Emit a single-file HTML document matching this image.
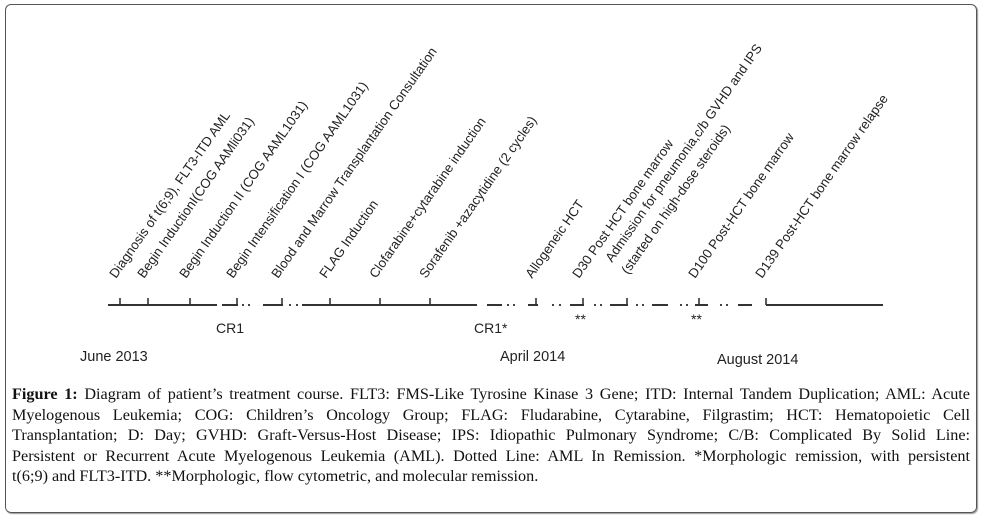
<!DOCTYPE html>
<html><head><meta charset="utf-8"><style>
html,body{margin:0;padding:0;background:#fff;}
#wrap{position:relative;width:982px;height:518px;overflow:hidden;}
#frame{position:absolute;left:5px;top:4px;width:970px;height:507px;border:1.5px solid #555;border-radius:6px;box-shadow:1px 1px 1px #999;}
#cap{position:absolute;left:12px;top:384px;width:958px;font-family:"Liberation Serif",serif;font-size:16.2px;line-height:20.6px;color:#111;}
#cap div{text-align:justify;text-align-last:justify;white-space:nowrap;}
#cap div.last{text-align-last:left;}
#cap b{font-weight:bold;}
svg text{font-family:"Liberation Sans",sans-serif;fill:#222;}
</style></head><body>
<div id="wrap">
<div id="frame"></div>
<svg id="chart" width="982" height="380" style="position:absolute;left:0;top:0"></svg>
<div id="cap">
<div style="white-space:normal"><b>Figure 1:</b> Diagram of patient’s treatment course. FLT3: FMS-Like Tyrosine Kinase 3 Gene; ITD: Internal Tandem Duplication; AML: Acute</div>
<div style="white-space:normal">Myelogenous Leukemia; COG: Children’s Oncology Group; FLAG: Fludarabine, Cytarabine, Filgrastim; HCT: Hematopoietic Cell</div>
<div style="white-space:normal">Transplantation; D: Day; GVHD: Graft-Versus-Host Disease; IPS: Idiopathic Pulmonary Syndrome; C/B: Complicated By Solid Line:</div>
<div style="white-space:normal">Persistent or Recurrent Acute Myelogenous Leukemia (AML). Dotted Line: AML In Remission. *Morphologic remission, with persistent</div>
<div class="last">t(6;9) and FLT3-ITD. **Morphologic, flow cytometric, and molecular remission.</div>
</div>
</div>
<script>
const eventX = [120,148,190,237,282,330,380,430,536,583,627,699,766];
const eventLabels = [
 ["Diagnosis of t(6;9), FLT3-ITD AML"],
 ["Begin InductionI(COG AAMli031)"],
 ["Begin Induction II (COG AAML1031)"],
 ["Begin Intensification I (COG AAML1031)"],
 ["Blood and Marrow Transplantation Consultation"],
 ["FLAG Induction"],
 ["Clofarabine+cytarabine induction"],
 ["Sorafenib +azacytidine (2 cycles)"],
 ["Allogeneic HCT"],
 ["D30 Post HCT bone marrow"],
 ["Admission for pneumonia,c/b GVHD and IPS","(started on high-dose steroids)"],
 ["D100 Post-HCT bone marrow"],
 ["D139 Post-HCT bone marrow relapse"]
];
const solidSegs = [[108,217],[222,238],[263,283],[302,477],[487,502],[528,538],[570,584],[610,628],[652,668],[695,708],[738,752],[766,883]];
const dotsX = [243,249,290,297,508,514,553,560,595,601,637,643,681,687,721,727];
const markers = [["CR1",216,333],["CR1*",474,333],["**",575,324],["**",691,324]];
const dates = [["June 2013",80,361],["April 2014",500,361],["August 2014",717,364]];
const lineY = 305;
const svg = document.getElementById('chart');
const NS = 'http://www.w3.org/2000/svg';
function mk(tag, attrs){const e=document.createElementNS(NS,tag);for(const k in attrs)e.setAttribute(k,attrs[k]);svg.appendChild(e);return e;}
solidSegs.forEach(s=>{
 const l=mk('line',{x1:s[0],x2:s[1],y1:lineY,y2:lineY,stroke:'#333','stroke-width':2});
 
 
});
dotsX.forEach(x=>{
 const d=mk('rect',{x:x-1,y:lineY-1,width:2,height:2,fill:'#444'});
 
 
});
eventX.forEach((x,i)=>{
 const t=mk('line',{x1:x,x2:x,y1:lineY-7,y2:lineY,stroke:'#333','stroke-width':1.6});
 
 
 const lines=eventLabels[i];
 lines.forEach((txt,j)=>{
  let bx=x-4, by=lineY-26;
  if(lines.length>1){ bx = x-15+j*16; by = lineY-42+j*12; }
  const e=mk('text',{x:bx,y:by,'font-size':13.2,transform:`rotate(-55 ${bx} ${by})`});
  e.textContent=txt;
  
  
 });
});
markers.forEach(m=>{
 const e=mk('text',{x:m[1],y:m[2],'font-size':14});
 e.textContent=m[0];
 
 
});
dates.forEach(d=>{
 const e=mk('text',{x:d[1],y:d[2],'font-size':14.5});
 e.textContent=d[0];
 
 
});
</script>
</body></html>
